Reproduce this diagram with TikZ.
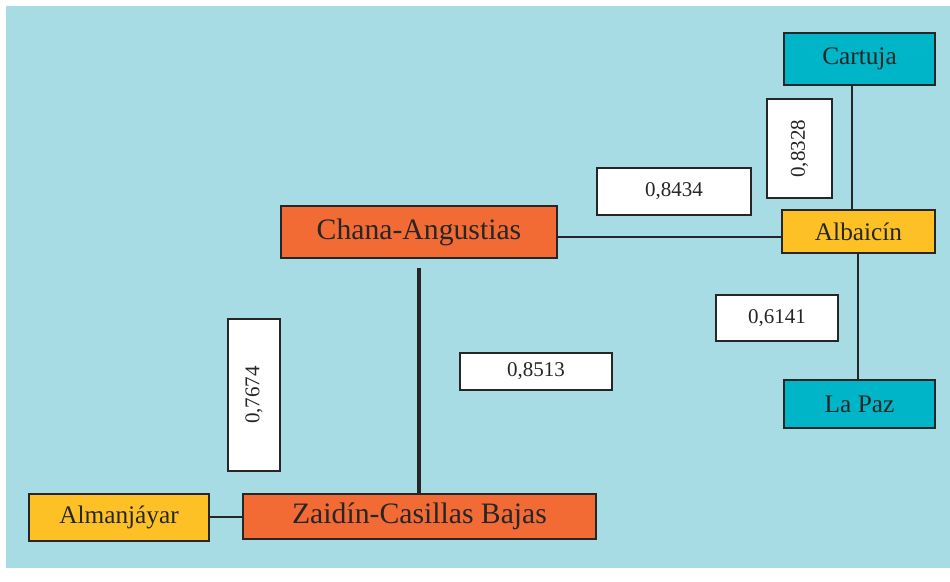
\documentclass[tikz,border=0pt]{standalone}
\usepackage{fontspec}
\setmainfont{Liberation Serif}
\definecolor{fondo}{HTML}{A8DCE5}
\definecolor{naranja}{HTML}{F26B35}
\definecolor{amarillo}{HTML}{FDC125}
\definecolor{turquesa}{HTML}{00B5C8}
\definecolor{linea}{HTML}{262626}
\begin{document}
\begin{tikzpicture}[x=1pt,y=-1pt,
  caja/.style={draw=linea,line width=2pt,inner sep=0pt,text=linea},
  grande/.style={caja,fill=naranja,font=\fontsize{29.7}{34}\selectfont},
  barrio/.style={caja,font=\fontsize{25.3}{30}\selectfont},
  valor/.style={caja,fill=white,font=\fontsize{21}{25}\selectfont},
  enlace/.style={draw=linea,line width=1.8pt}]
\useasboundingbox (0,0) rectangle (950,581);
\fill[fondo] (6,6) rectangle (950,568);
%\draw[very thin,gray,step=50] (0,0) grid (950,581);
% barrios
\node[grande,minimum width=276,minimum height=52] (chana) at (419,232) {Chana-Angustias};
\node[grande,minimum width=353,minimum height=45] (zaidin) at (419.5,516.5) {Zaidín-Casillas Bajas};
\node[barrio,fill=amarillo,minimum width=180,minimum height=47] (almanjayar) at (119,517) {Almanjáyar};
\node[barrio,fill=amarillo,minimum width=153,minimum height=43] (albaicin) at (858.5,231.7) {Albaicín};
\node[barrio,fill=turquesa,minimum width=151,minimum height=52] (cartuja) at (859.5,59) {Cartuja};
\node[barrio,fill=turquesa,minimum width=151,minimum height=48] (lapaz) at (859.5,404.3) {La Paz};
% valores
\node[valor,rotate=90,minimum width=99,minimum height=65] (v8328) at (799.5,148.8) {0,8328};
\node[valor,minimum width=154,minimum height=47] (v8434) at (674,191.3) {0,8434};
\node[valor,minimum width=152,minimum height=37] (v8513) at (536,371.5) {0,8513};
\node[valor,rotate=90,minimum width=152,minimum height=52] (v7674) at (254,395) {0,7674};
\node[valor,minimum width=122,minimum height=46] (v6141) at (777,318) {0,6141};
% enlaces
\draw[enlace] ([xshift=-7.5pt]cartuja.south) -- ([xshift=-7.5pt]cartuja.south |- albaicin.north);
\draw[enlace] ([xshift=-0.5pt]albaicin.south) -- ([xshift=-0.5pt]albaicin.south |- lapaz.north);
\draw[enlace] ([yshift=-5pt]chana.east) -- ([yshift=-5pt]chana.east -| albaicin.west);
\draw[enlace,line width=4pt] ([yshift=-9pt]chana.south) -- (chana.south |- zaidin.north);
\draw[enlace] (almanjayar.east) -- (almanjayar.east -| zaidin.west);
\end{tikzpicture}
\end{document}
